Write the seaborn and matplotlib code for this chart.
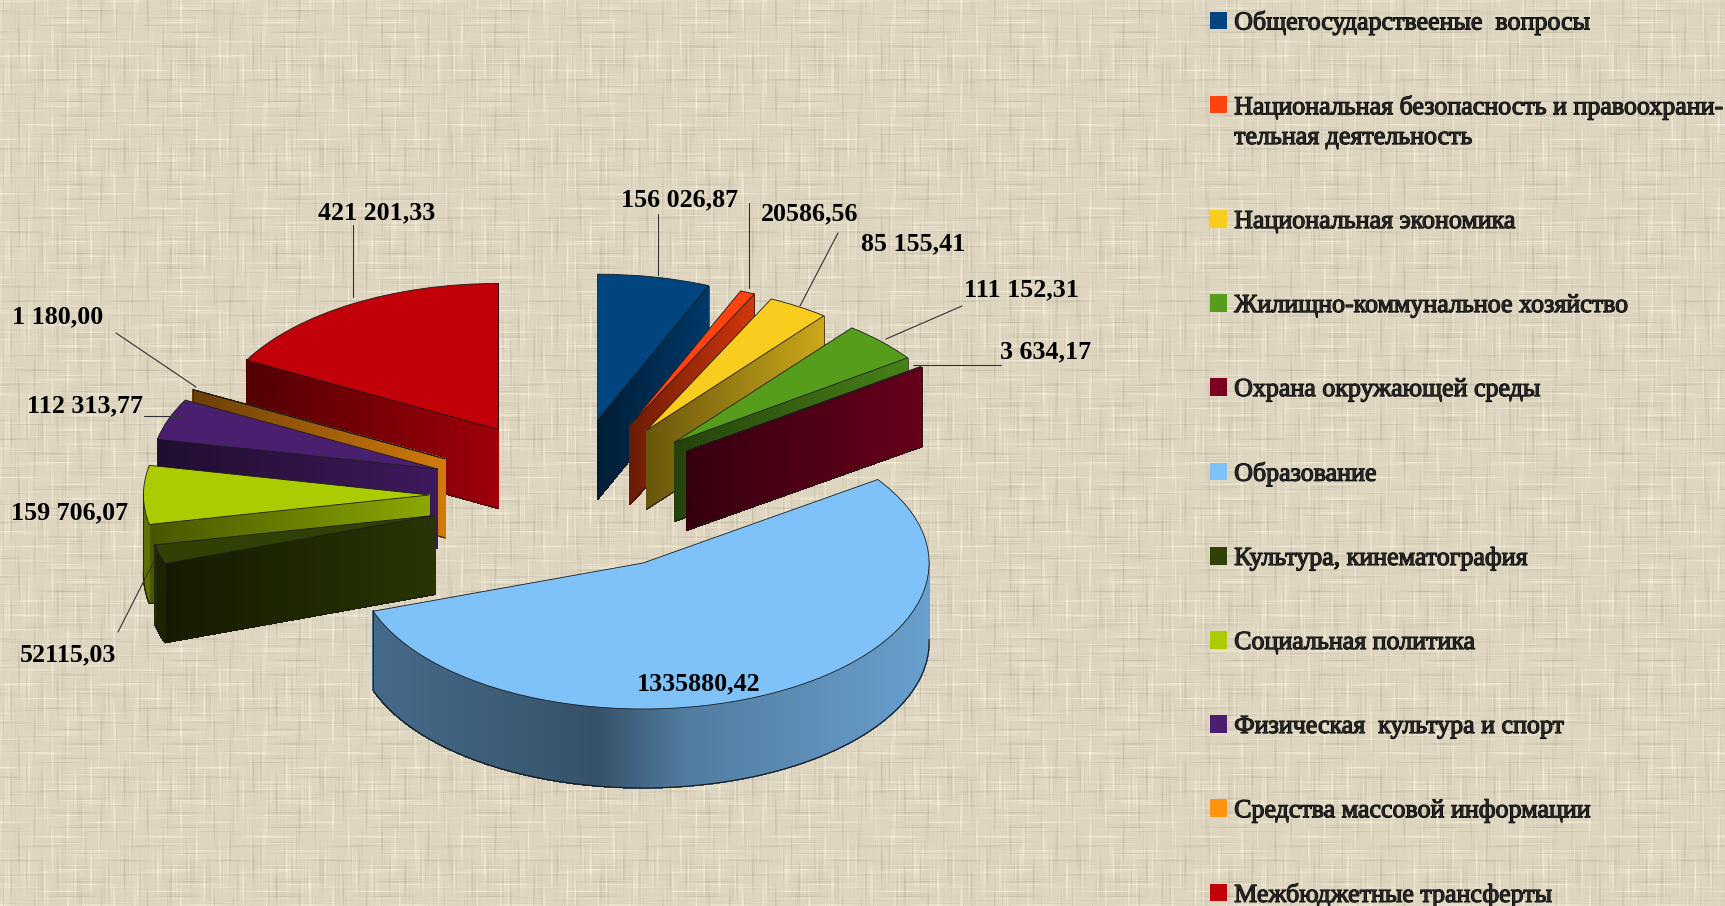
import numpy as np
import matplotlib
matplotlib.use("Agg")
import matplotlib.pyplot as plt
import matplotlib.patheffects as pe
from matplotlib.collections import PolyCollection
from matplotlib.legend_handler import HandlerPatch
from matplotlib.patches import Rectangle
import seaborn as sns

categories = [
    "Общегосударствееные  вопросы",
    "Национальная безопасность и правоохрани-\nтельная деятельность",
    "Национальная экономика",
    "Жилищно-коммунальное хозяйство",
    "Охрана окружающей среды",
    "Образование",
    "Культура, кинематография",
    "Социальная политика",
    "Физическая  культура и спорт",
    "Средства массовой информации",
    "Межбюджетные трансферты",
]
values = [156026.87, 20586.56, 85155.41, 111152.31, 3634.17, 1335880.42,
          52115.03, 159706.07, 112313.77, 1180.00, 421201.33]
value_labels = ["156 026,87", "20586,56", "85 155,41", "111 152,31", "3 634,17", "1335880,42",
                "52115,03", "159 706,07", "112 313,77", "1 180,00", "421 201,33"]
colors = ["#00457f", "#ff420e", "#f9cd1e", "#579d1c", "#7e0021", "#7fc2fa",
          "#314004", "#aacc00", "#4b1f6f", "#ff950e", "#c1000a"]

# back to front
draw_order = [10, 9, 8, 7, 6, 0, 1, 2, 3, 4, 5]

W, H = 1725, 906
PX_X = 286.0   # pixels per unit of radius, horizontally
PX_Y = 146.0   # same, vertically (squashed pie)
CX, CY = 575.0, 495.0
DEPTH = 79.0 / PX_Y
EXPLODE = 0.523
# small sideways corrections per slice, in pixels
nudge = [-7, -7, -8, -9, -10, 0, 4, 4, 3, 2, 0]

sns.set_style("white")
plt.rcParams["font.family"] = ["Liberation Serif", "DejaVu Serif"]

fig = plt.figure(figsize=(W / 100, H / 100), dpi=100)

# burlap background
bg = fig.add_axes([0, 0, 1, 1])
yy, xx = np.mgrid[0:H, 0:W]
rows = np.sin(yy * 1.73) + 0.9 * np.sin(yy * 0.91 + 1.0) + 0.7 * np.sin(yy * 2.9 + 0.4) + 0.8 * np.sin(yy * 0.37)
cols = np.sin(xx * 1.61) + 0.9 * np.sin(xx * 0.83 + 2.0) + 0.7 * np.sin(xx * 3.07 + 1.2) + 0.8 * np.sin(xx * 0.29)
row_mod = 0.5 + 0.5 * np.sin(xx * 0.06 + 3.0 * np.sin(yy * 0.23))
col_mod = 0.5 + 0.5 * np.sin(yy * 0.07 + 3.0 * np.sin(xx * 0.19))
tex = 7.5 * rows * row_mod ** 2 + 7.5 * cols * col_mod ** 2
rgb = np.stack([222 + tex, 214 + tex, 192 + tex * 1.05], axis=-1)
bg.imshow(np.clip(rgb, 0, 255).astype(np.uint8), aspect="auto", interpolation="bilinear")
bg.axis("off")

ax = fig.add_axes([0, 0, 1, 1])
ax.patch.set_alpha(0)
wedges, _ = ax.pie(values, colors=colors, startangle=90, counterclock=False,
                   explode=[EXPLODE] * len(values), radius=1.0,
                   wedgeprops={"edgecolor": "#1c1c1c", "linewidth": 0.6})
ax.set_aspect("auto")
ax.set_xlim(-CX / PX_X, (W - CX) / PX_X)
ax.set_ylim(-(H - CY) / PX_Y, CY / PX_Y)
ax.axis("off")


def shade(col, f):
    return tuple(np.clip(np.array(matplotlib.colors.to_rgb(col)) * f, 0, 1))


def add_wall(quads, fc, z):
    ax.add_collection(PolyCollection(quads, facecolors=fc, edgecolors=fc, linewidths=0.5,
                                     antialiaseds=False, zorder=z))


def radial_wall(c, p, col, z):
    # flat side of a slice, dark on the left, lighter to the right
    ts = np.linspace(0, 1, 90)
    xs = c[0] + (p[0] - c[0]) * ts
    ys = c[1] + (p[1] - c[1]) * ts
    xmin, xmax = xs.min(), xs.max()
    quads, fc = [], []
    for i in range(len(ts) - 1):
        quads.append([(xs[i], ys[i]), (xs[i + 1], ys[i + 1]),
                      (xs[i + 1], ys[i + 1] - DEPTH), (xs[i], ys[i] - DEPTH)])
        t = (xs[i] - xmin) / max(xmax - xmin, 1e-6)
        fc.append(shade(col, 0.42 + 0.40 * t))
    add_wall(quads, fc, z)
    ax.plot([c[0], p[0]], [c[1] - DEPTH, p[1] - DEPTH], color="#1c1c1c", lw=0.7, zorder=z + 0.1)
    ax.plot([p[0], p[0]], [p[1], p[1] - DEPTH], color="#1c1c1c", lw=0.5, zorder=z + 0.1)


def arc_wall(w, col, z):
    a1, a2 = w.theta1, w.theta2
    angles = np.radians(np.linspace(a1, a2, max(int(a2 - a1) * 5, 2) + 1))
    angles = angles[np.sin(angles) <= 0.02]
    if len(angles) < 2:
        return
    xs = w.center[0] + w.r * np.cos(angles)
    ys = w.center[1] + w.r * np.sin(angles)
    quads, fc = [], []
    for i in range(len(angles) - 1):
        quads.append([(xs[i], ys[i]), (xs[i + 1], ys[i + 1]),
                      (xs[i + 1], ys[i + 1] - DEPTH), (xs[i], ys[i] - DEPTH)])
        nx = np.cos(angles[i])
        fc.append(shade(col, np.interp(nx, [-1, -0.16, 0.15, 1], [0.56, 0.42, 0.64, 0.82])))
    add_wall(quads, fc, z)
    ax.plot(xs, ys - DEPTH, color="#1c1c1c", lw=0.9, zorder=z + 0.1)
    ax.plot([xs[0], xs[0]], [ys[0], ys[0] - DEPTH], color="#1c2c4a", lw=0.8, zorder=z + 0.1)


for rank, idx in enumerate(draw_order):
    w = wedges[idx]
    col = colors[idx]
    z = 10 + rank * 10
    w.set_center((w.center[0] + nudge[idx] / PX_X, w.center[1]))
    w.set_zorder(z + 5)
    c = w.center
    p1 = (c[0] + w.r * np.cos(np.radians(w.theta1)), c[1] + w.r * np.sin(np.radians(w.theta1)))
    p2 = (c[0] + w.r * np.cos(np.radians(w.theta2)), c[1] + w.r * np.sin(np.radians(w.theta2)))
    # only the sides that face the viewer
    if np.sin(np.radians(w.theta1 - 90)) < 0:
        radial_wall(c, p1, col, z)
    if np.sin(np.radians(w.theta2 + 90)) < 0:
        radial_wall(c, p2, col, z + 1)
    arc_wall(w, col, z + 2)


def to_data(x, y):
    # picture pixels to data units
    return (x - CX) / PX_X, (CY - y) / PX_Y


# label centre and leader line, in picture pixels
label_pos = [(680, 200), (810, 214), (913, 244), (1021, 290), (1046, 352), (699, 684),
             (68, 655), (70, 513), (85, 406), (58, 317), (377, 213)]
leaders = [((658, 214), (658, 275)), ((749, 203), (749, 288)), ((838, 233), (800, 306)),
           ((962, 306), (886, 339)), ((1001, 365), (913, 365)), None,
           ((118, 632), (154, 561)), None, ((144, 416), (182, 416)), ((116, 333), (196, 387)),
           ((353, 225), (353, 297))]

for txt, pos, lead in zip(value_labels, label_pos, leaders):
    if lead is not None:
        x0, y0 = to_data(*lead[0])
        x1, y1 = to_data(*lead[1])
        ax.plot([x0, x1], [y0, y1], color="#333333", lw=0.8, zorder=200)
    tx, ty = to_data(*pos)
    ax.text(tx, ty, txt, ha="center", va="center", fontsize=18.7, fontweight="bold",
            color="black", zorder=210)


def raised_square(legend, orig_handle, xdescent, ydescent, width, height, fontsize):
    # two-line entry: square sits level with the first line
    return Rectangle((-xdescent, -ydescent + 12.5), width, height)


leg = ax.legend(wedges, categories, loc="upper left", bbox_to_anchor=(1210 / W, 1 - 11 / H),
                bbox_transform=fig.transFigure, frameon=False, fontsize=18.7,
                handlelength=0.65, handleheight=0.65, handletextpad=0.28,
                labelspacing=2.357, borderpad=0, borderaxespad=0,
                handler_map={wedges[1]: HandlerPatch(patch_func=raised_square)})
for t in leg.get_texts():
    t.set_linespacing(1.46)
    t.set_path_effects([pe.withStroke(linewidth=0.8, foreground="black")])
for h in leg.get_patches():
    h.set_edgecolor("none")

fig.savefig("out.png", dpi=100)
